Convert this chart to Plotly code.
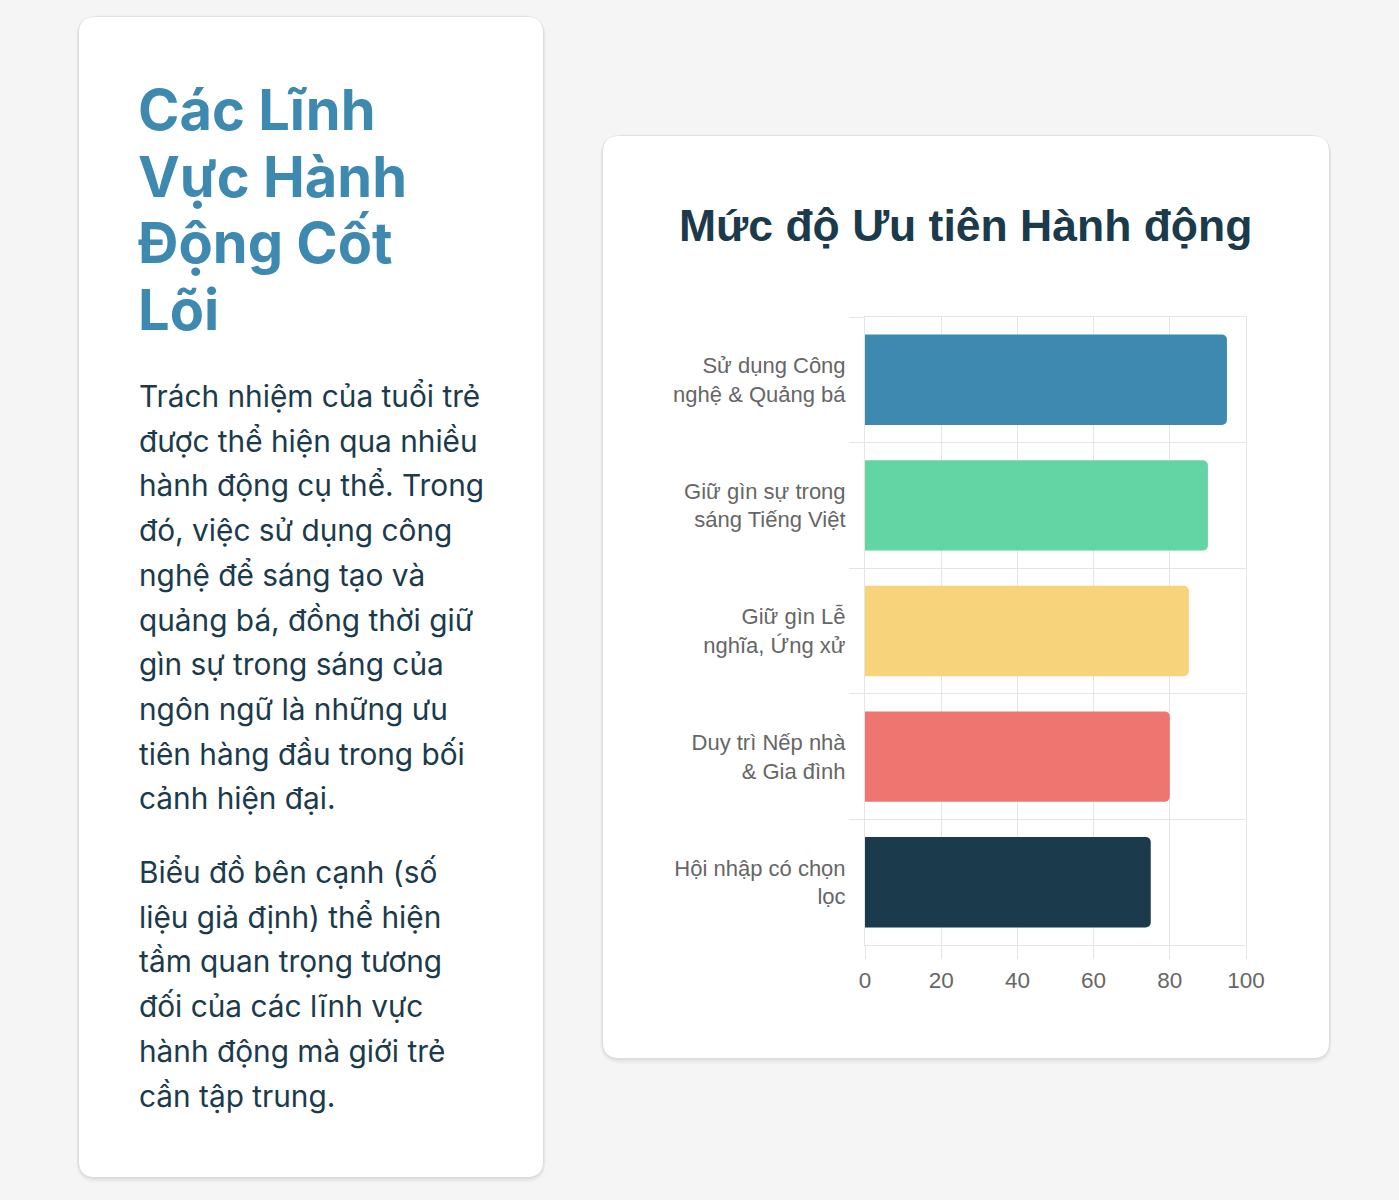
import plotly.graph_objects as go

W, H = 1399, 1200

# data
categories = [
    "Sử dụng Công<br>nghệ & Quảng bá",
    "Giữ gìn sự trong<br>sáng Tiếng Việt",
    "Giữ gìn Lễ<br>nghĩa, Ứng xử",
    "Duy trì Nếp nhà<br>& Gia đình",
    "Hội nhập có chọn<br>lọc",
]
priority = [95, 90, 85, 80, 75]
bar_colors = ["#3E89B0", "#63D4A4", "#F7D47B", "#EE7570", "#1B3A4B"]

heading_lines = ["Các Lĩnh", "Vực Hành", "Động Cốt", "Lõi"]
para1_lines = [
    "Trách nhiệm của tuổi trẻ",
    "được thể hiện qua nhiều",
    "hành động cụ thể. Trong",
    "đó, việc sử dụng công",
    "nghệ để sáng tạo và",
    "quảng bá, đồng thời giữ",
    "gìn sự trong sáng của",
    "ngôn ngữ là những ưu",
    "tiên hàng đầu trong bối",
    "cảnh hiện đại.",
]
para2_lines = [
    "Biểu đồ bên cạnh (số",
    "liệu giả định) thể hiện",
    "tầm quan trọng tương",
    "đối của các lĩnh vực",
    "hành động mà giới trẻ",
    "cần tập trung.",
]
chart_title = "Mức độ Ưu tiên Hành động"


def fx(x):
    return x / W


def fy(y):
    return 1 - y / H


def rounded_rect(x0, y0, x1, y1, r):
    rx, ry = r / W, r / H
    a, b, c, d = fx(x0), fy(y0), fx(x1), fy(y1)
    return (
        f"M{a + rx},{b} L{c - rx},{b} Q{c},{b} {c},{b - ry} "
        f"L{c},{d + ry} Q{c},{d} {c - rx},{d} L{a + rx},{d} "
        f"Q{a},{d} {a},{d + ry} L{a},{b - ry} Q{a},{b} {a + rx},{b} Z"
    )


# two white cards with a soft shadow
shapes = []
for box in [(79, 17, 543, 1177), (603, 136, 1329, 1058)]:
    x0, y0, x1, y1 = box
    for k, op in [(6, 0.025), (4, 0.03), (2, 0.04)]:
        shapes.append(dict(type="path", xref="paper", yref="paper", layer="below",
                           path=rounded_rect(x0 - k / 2, y0 - k / 4, x1 + k / 2, y1 + k, 16 + k),
                           fillcolor=f"rgba(0,0,0,{op})", line=dict(width=0)))
    shapes.append(dict(type="path", xref="paper", yref="paper", layer="below",
                       path=rounded_rect(x0, y0, x1, y1, 16),
                       fillcolor="white", line=dict(width=0)))

annotations = []
for i, line in enumerate(heading_lines):
    annotations.append(dict(text=f"<b>{line}</b>", x=fx(136), y=fy(110 + i * 66.7),
                            xref="paper", yref="paper", xanchor="left", yanchor="middle",
                            showarrow=False,
                            font=dict(family="Inter", size=56, color="#3E89B0")))
for i, line in enumerate(para1_lines):
    annotations.append(dict(text=line, x=fx(137), y=fy(396 + i * 44.7),
                            xref="paper", yref="paper", xanchor="left", yanchor="middle",
                            showarrow=False,
                            font=dict(family="Inter", size=29.8, color="#1B3A4B")))
for i, line in enumerate(para2_lines):
    annotations.append(dict(text=line, x=fx(137), y=fy(872 + i * 44.7),
                            xref="paper", yref="paper", xanchor="left", yanchor="middle",
                            showarrow=False,
                            font=dict(family="Inter", size=29.8, color="#1B3A4B")))
annotations.append(dict(text=f"<b>{chart_title}</b>", x=fx(966), y=fy(225),
                        xref="paper", yref="paper", xanchor="center", yanchor="middle",
                        showarrow=False,
                        font=dict(family="Liberation Sans", size=44.5, color="#1B3A4B")))

fig = go.Figure(
    go.Bar(
        x=priority,
        y=categories,
        orientation="h",
        marker=dict(color=bar_colors, cornerradius=5, line=dict(width=0)),
        hoverinfo="x+y",
    )
)

grid = "#E5E5E5"
fig.update_layout(
    width=W,
    height=H,
    margin=dict(l=0, r=0, t=0, b=0, autoexpand=False),
    paper_bgcolor="#F5F5F5",
    plot_bgcolor="white",
    showlegend=False,
    bargap=0.28,
    shapes=shapes,
    annotations=annotations,
    font=dict(family="Liberation Sans", color="#666666"),
    xaxis=dict(
        domain=[fx(865), fx(1246)],
        range=[0, 100],
        dtick=20,
        automargin=False,
        showgrid=True,
        gridcolor=grid,
        gridwidth=1,
        zeroline=False,
        ticks="outside",
        ticklen=13,
        tickcolor=grid,
        ticklabelstandoff=2,
        tickfont=dict(size=22.5, color="#666666"),
        showline=True,
        linecolor=grid,
        mirror=True,
    ),
    yaxis=dict(
        domain=[fy(945), fy(317)],
        autorange="reversed",
        automargin=False,
        tickson="boundaries",
        showgrid=True,
        gridcolor=grid,
        ticks="outside",
        ticklen=15,
        tickcolor=grid,
        ticklabelstandoff=14,
        tickfont=dict(size=22, color="#666666"),
        showline=True,
        linecolor=grid,
        mirror=True,
    ),
)

fig.write_html(
    "out.html",
    config={"displayModeBar": False},
    post_script="document.body.style.margin='0';document.body.style.overflow='hidden';",
)
